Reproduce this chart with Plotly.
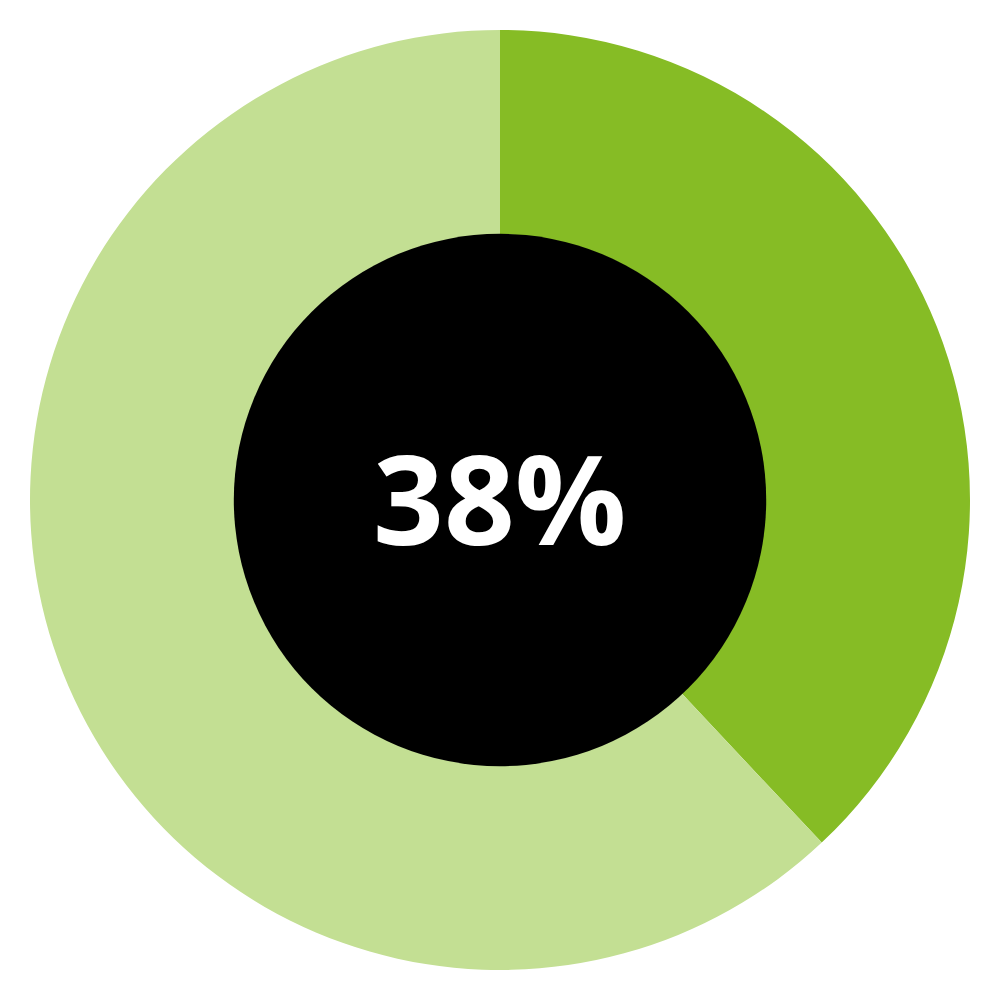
import plotly.graph_objects as go

labels = ["Share", "Rest"]
values = [38, 62]
colors = ["#86bc25", "#c3df93"]
center_label = "38%"

fig = go.Figure(
    go.Pie(
        labels=labels,
        values=values,
        hole=0.565,
        sort=False,
        direction="clockwise",
        rotation=0,
        marker=dict(colors=colors, line=dict(width=0)),
        textinfo="none",
        hoverinfo="label+percent",
        showlegend=False,
    )
)

# black disc filling the hole (slightly oversized to hide the edge seam)
fig.add_shape(
    type="circle",
    xref="paper",
    yref="paper",
    x0=0.5 - 0.2832,
    x1=0.5 + 0.2832,
    y0=0.5 - 0.2832,
    y1=0.5 + 0.2832,
    fillcolor="black",
    line=dict(width=0),
)

fig.add_annotation(
    text=f"<b>{center_label}</b>",
    x=0.5,
    y=0.5,
    xref="paper",
    yref="paper",
    yshift=4,
    showarrow=False,
    font=dict(family="Open Sans", size=124, color="white"),
)

# page body adds an 8px offset, so shift the plot area back
fig.update_layout(
    width=1000,
    height=1000,
    margin=dict(l=22, r=38, t=22, b=38),
    paper_bgcolor="white",
    plot_bgcolor="white",
)

fig.write_html("out.html")
